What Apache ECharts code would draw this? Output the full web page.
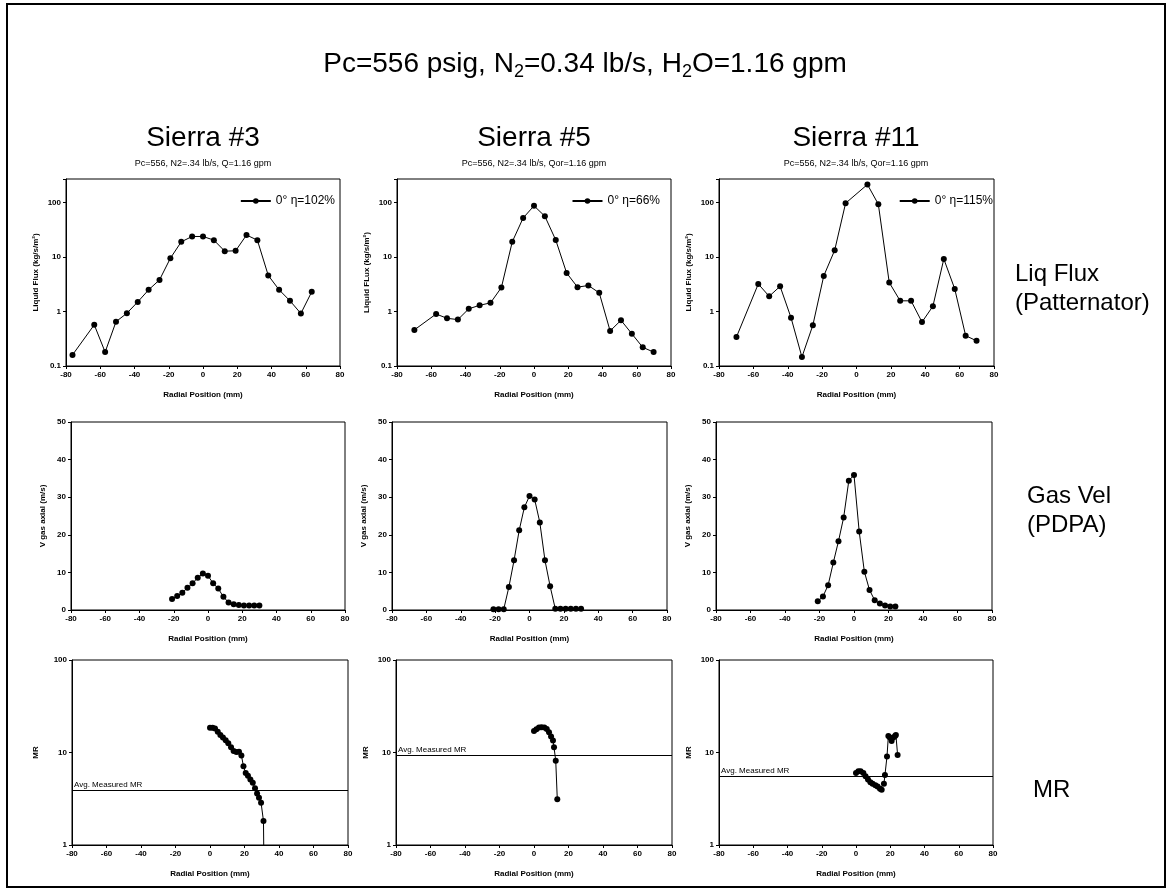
<!DOCTYPE html>
<html>
<head>
<meta charset="utf-8">
<script src="https://cdn.jsdelivr.net/npm/echarts@6/dist/echarts.min.js"></script>
<style>
html,body{margin:0;padding:0;background:#fff;}
#c{width:1170px;height:892px;}
</style>
</head>
<body>
<div id="c"></div>
<script>
// ---------- data ----------
const xTicks = [-80, -60, -40, -20, 0, 20, 40, 60, 80];

// Row 1: Liquid flux (kg/s/m^2), patternator
const s3FluxX  = [-76.2, -63.5, -57.15, -50.8, -44.45, -38.1, -31.75, -25.4, -19.05, -12.7, -6.35, 0, 6.35, 12.7, 19.05, 25.4, 31.75, 38.1, 44.45, 50.8, 57.15, 63.5];
const s3Flux   = [0.16, 0.57, 0.18, 0.65, 0.93, 1.5, 2.5, 3.8, 9.5, 19, 23.8, 23.8, 20.4, 12.8, 13, 25.3, 20.4, 4.6, 2.5, 1.57, 0.92, 2.3];
const s5FluxX  = [-69.85, -57.15, -50.8, -44.45, -38.1, -31.75, -25.4, -19.05, -12.7, -6.35, 0, 6.35, 12.7, 19.05, 25.4, 31.75, 38.1, 44.45, 50.8, 57.15, 63.5, 69.85];
const s5Flux   = [0.46, 0.9, 0.75, 0.71, 1.12, 1.3, 1.44, 2.75, 19, 52, 87, 56, 20.5, 5.1, 2.8, 3.0, 2.2, 0.44, 0.69, 0.39, 0.22, 0.18];
const s11FluxX = [-69.85, -57.15, -50.8, -44.45, -38.1, -31.75, -25.4, -19.05, -12.7, -6.35, 6.35, 12.7, 19.05, 25.4, 31.75, 38.1, 44.45, 50.8, 57.15, 63.5, 69.85];
const s11Flux  = [0.34, 3.2, 1.9, 2.9, 0.77, 0.146, 0.56, 4.5, 13.3, 97, 214, 93, 3.4, 1.57, 1.57, 0.64, 1.25, 9.2, 2.6, 0.36, 0.29];

// Row 2: axial gas velocity (m/s), PDPA
const s3VelX  = [-21, -18, -15, -12, -9, -6, -3, 0, 3, 6, 9, 12, 15, 18, 21, 24, 27, 30];
const s3Vel   = [2.9, 3.7, 4.6, 5.9, 7.1, 8.6, 9.7, 9.1, 7.1, 5.7, 3.5, 2.0, 1.5, 1.3, 1.2, 1.2, 1.2, 1.2];
const s5VelX  = [-21, -18, -15, -12, -9, -6, -3, 0, 3, 6, 9, 12, 15, 18, 21, 24, 27, 30];
const s5Vel   = [0.2, 0.2, 0.2, 6.1, 13.2, 21.2, 27.3, 30.3, 29.4, 23.3, 13.2, 6.3, 0.3, 0.3, 0.3, 0.3, 0.3, 0.3];
const s11VelX = [-21, -18, -15, -12, -9, -6, -3, 0, 3, 6, 9, 12, 15, 18, 21, 24];
const s11Vel  = [2.3, 3.6, 6.6, 12.6, 18.3, 24.6, 34.4, 35.9, 20.9, 10.2, 5.3, 2.6, 1.7, 1.2, 0.9, 0.9];

// Row 3: mixture ratio
const s3MRX  = [0, 1.5, 2.9, 4.5, 6, 7.5, 9.1, 10.6, 12.2, 13.7, 15.3, 16.8, 18.2, 19.4, 20.7, 22, 23.4, 24.8, 26.1, 27.3, 28.4, 29.6, 31, 31.3];
const s3MR   = [18.5, 18.5, 18.2, 16.8, 15.5, 14.5, 13.6, 12.6, 11.4, 10.4, 10.1, 10.2, 9.3, 7.1, 6.0, 5.6, 5.1, 4.7, 4.1, 3.6, 3.25, 2.87, 1.82, 0.5];
const s5MRX  = [0, 1.4, 2.9, 4.4, 6, 7.4, 8.7, 9.9, 11, 11.6, 12.6, 13.5];
const s5MR   = [17.1, 17.8, 18.6, 18.8, 18.6, 18, 16.6, 14.9, 13.5, 11.4, 8.15, 3.13];
const s11MRX = [0, 1.4, 2.7, 4.3, 5.6, 7, 8.4, 9.7, 11.3, 12.6, 14, 15, 16.3, 16.9, 18.1, 18.9, 19.8, 20.8, 21.8, 22.8, 23.3, 24.3];
const s11MR  = [6.0, 6.26, 6.26, 6.0, 5.53, 5.1, 4.77, 4.58, 4.43, 4.29, 4.05, 3.95, 4.58, 5.7, 9.06, 15.1, 14.5, 13.3, 14.5, 15.1, 15.5, 9.4];
const avgMR  = [3.9, 9.3, 5.5];

const injectors  = ['Sierra #3', 'Sierra #5', 'Sierra #11'];
const subtitles  = ['Pc=556, N2=.34 lb/s, Q=1.16 gpm', 'Pc=556, N2=.34 lb/s, Qor=1.16 gpm', 'Pc=556, N2=.34 lb/s, Qor=1.16 gpm'];
const legendNames = ['0° η=102%', '0° η=66%', '0° η=115%'];
const fluxNames  = ['Liquid Flux (kg/s/m²)', 'Liquid FLux (kg/s/m²)', 'Liquid Flux (kg/s/m²)'];
const rowLabels  = [['Liq Flux', '(Patternator)'], ['Gas Vel', '(PDPA)'], ['MR']];

// ---------- layout ----------
const FONT = '"Liberation Sans", Arial, Helvetica, sans-serif';
const gridBoxes = [
  [66, 179, 274, 187], [397, 179, 274, 187], [719, 179, 275, 187],
  [71, 422, 274, 188], [392, 422, 275, 188], [716, 422, 276, 188],
  [72, 660, 276, 185], [396, 660, 276, 185], [719, 660, 274, 185]
];
const colCenters = [203, 534, 856];

function zip(xs, ys) { return xs.map((x, i) => [x, ys[i]]); }
function logFmt(v) {
  const l = Math.log10(v);
  if (Math.abs(l - Math.round(l)) > 1e-6) return '';
  const r = Math.round(l);
  return r < 0 ? '0.1' : String(Math.pow(10, r));
}

const grids = gridBoxes.map(b => ({
  left: b[0], top: b[1], width: b[2], height: b[3],
  show: true, borderColor: '#000', borderWidth: 1, backgroundColor: 'transparent'
}));

const axLabel = { fontSize: 8, color: '#000', fontFamily: FONT, fontWeight: 'bold' };
const nameStyle = { fontSize: 8, color: '#000', fontFamily: FONT, fontWeight: 'bold' };

const xAxes = gridBoxes.map((b, i) => ({
  type: 'value', gridIndex: i, min: xTicks[0], max: xTicks[xTicks.length - 1], interval: 20,
  name: 'Radial Position (mm)', nameLocation: 'middle', nameGap: 25, nameTextStyle: nameStyle,
  axisLine: { onZero: false, lineStyle: { color: '#000', width: 1 } },
  axisTick: { show: true, length: 3, lineStyle: { color: '#000' } },
  axisLabel: Object.assign({ margin: 5 }, axLabel),
  splitLine: { show: false }
}));

const yAxes = [];
for (let i = 0; i < 9; i++) {
  const row = Math.floor(i / 3), col = i % 3;
  const common = {
    gridIndex: i, nameLocation: 'middle', nameTextStyle: nameStyle,
    axisLine: { onZero: false, lineStyle: { color: '#000', width: 1 } },
    axisTick: { show: true, length: 3, lineStyle: { color: '#000' } },
    splitLine: { show: false }
  };
  if (row === 0) {
    yAxes.push(Object.assign(common, {
      type: 'log', logBase: 10, min: 0.1, max: 270, name: fluxNames[col], nameGap: 26,
      axisLabel: Object.assign({ formatter: logFmt, margin: 5 }, axLabel)
    }));
  } else if (row === 1) {
    yAxes.push(Object.assign(common, {
      type: 'value', min: 0, max: 50, interval: 10, name: 'V gas axial (m/s)', nameGap: 24,
      axisLabel: Object.assign({ margin: 5 }, axLabel)
    }));
  } else {
    yAxes.push(Object.assign(common, {
      type: 'log', logBase: 10, min: 1, max: 100, name: 'MR', nameGap: col === 0 ? 32 : 26,
      axisLabel: Object.assign({ formatter: logFmt, margin: 5 }, axLabel)
    }));
  }
}

const fluxSets = [zip(s3FluxX, s3Flux), zip(s5FluxX, s5Flux), zip(s11FluxX, s11Flux)];
const velSets  = [zip(s3VelX, s3Vel), zip(s5VelX, s5Vel), zip(s11VelX, s11Vel)];
const mrSets   = [zip(s3MRX, s3MR), zip(s5MRX, s5MR), zip(s11MRX, s11MR)];

const lineBase = {
  type: 'line', symbol: 'circle', symbolSize: 6, showSymbol: true, clip: true,
  lineStyle: { color: '#000', width: 1 }, itemStyle: { color: '#000' },
  animation: false, silent: true
};

const series = [];
for (let c = 0; c < 3; c++) {
  series.push(Object.assign({}, lineBase, { name: legendNames[c], xAxisIndex: c, yAxisIndex: c, data: fluxSets[c] }));
  series.push(Object.assign({}, lineBase, { name: 'vel' + c, xAxisIndex: 3 + c, yAxisIndex: 3 + c, data: velSets[c] }));
  series.push(Object.assign({}, lineBase, {
    name: 'mr' + c, xAxisIndex: 6 + c, yAxisIndex: 6 + c, data: mrSets[c], symbolSize: 6,
    markLine: {
      symbol: 'none', silent: true, animation: false,
      lineStyle: { color: '#000', type: 'solid', width: 1 },
      label: { show: true, position: 'insideStartTop', formatter: 'Avg. Measured MR', fontSize: 8, color: '#000', fontFamily: FONT, distance: [2, 2] },
      data: [{ yAxis: avgMR[c] }]
    }
  }));
}

const legendRights = [1170 - 335, 1170 - 660, 1170 - 993];
const legends = legendNames.map((n, c) => ({
  data: [n], right: legendRights[c], top: 195, padding: 0,
  itemWidth: 30, itemHeight: 7, itemGap: 6,
  textStyle: { fontSize: 12, color: '#000', fontFamily: FONT }
}));

const titles = [{
  text: 'Pc=556 psig, N{s|2}=0.34 lb/s, H{s|2}O=1.16 gpm',
  left: 'center', top: 42,
  textStyle: {
    fontSize: 28, fontWeight: 'normal', color: '#000', fontFamily: FONT, lineHeight: 34,
    rich: { s: { fontSize: 18, lineHeight: 18, verticalAlign: 'bottom', fontFamily: FONT, color: '#000' } }
  }
}];

const graphics = [{
  type: 'rect', shape: { x: 7, y: 4, width: 1158, height: 883 },
  style: { fill: 'none', stroke: '#000', lineWidth: 2 }, silent: true
}];
for (let c = 0; c < 3; c++) {
  graphics.push({
    type: 'text', x: colCenters[c], y: 138,
    style: { text: injectors[c], font: '28px ' + FONT, fill: '#000', textAlign: 'center', textVerticalAlign: 'middle' }
  });
  graphics.push({
    type: 'text', x: colCenters[c], y: 164,
    style: { text: subtitles[c], font: '9px ' + FONT, fill: '#000', textAlign: 'center', textVerticalAlign: 'middle' }
  });
}
const rowLabelPos = [[1015, 275], [1027, 497], [1033, 790]];
rowLabels.forEach((lines, r) => {
  lines.forEach((t, k) => {
    const n = lines.length;
    graphics.push({
      type: 'text', x: rowLabelPos[r][0], y: rowLabelPos[r][1] + (k - (n - 1) / 2) * 29 + (n > 1 ? 14 : 0),
      style: { text: t, font: '24px ' + FONT, fill: '#000', textAlign: 'left', textVerticalAlign: 'middle' }
    });
  });
});

const chart = echarts.init(document.getElementById('c'), null, { renderer: 'canvas' });
chart.setOption({
  animation: false,
  backgroundColor: '#fff',
  title: titles,
  legend: legends,
  grid: grids,
  xAxis: xAxes,
  yAxis: yAxes,
  series: series,
  graphic: graphics
});
</script>
</body>
</html>
